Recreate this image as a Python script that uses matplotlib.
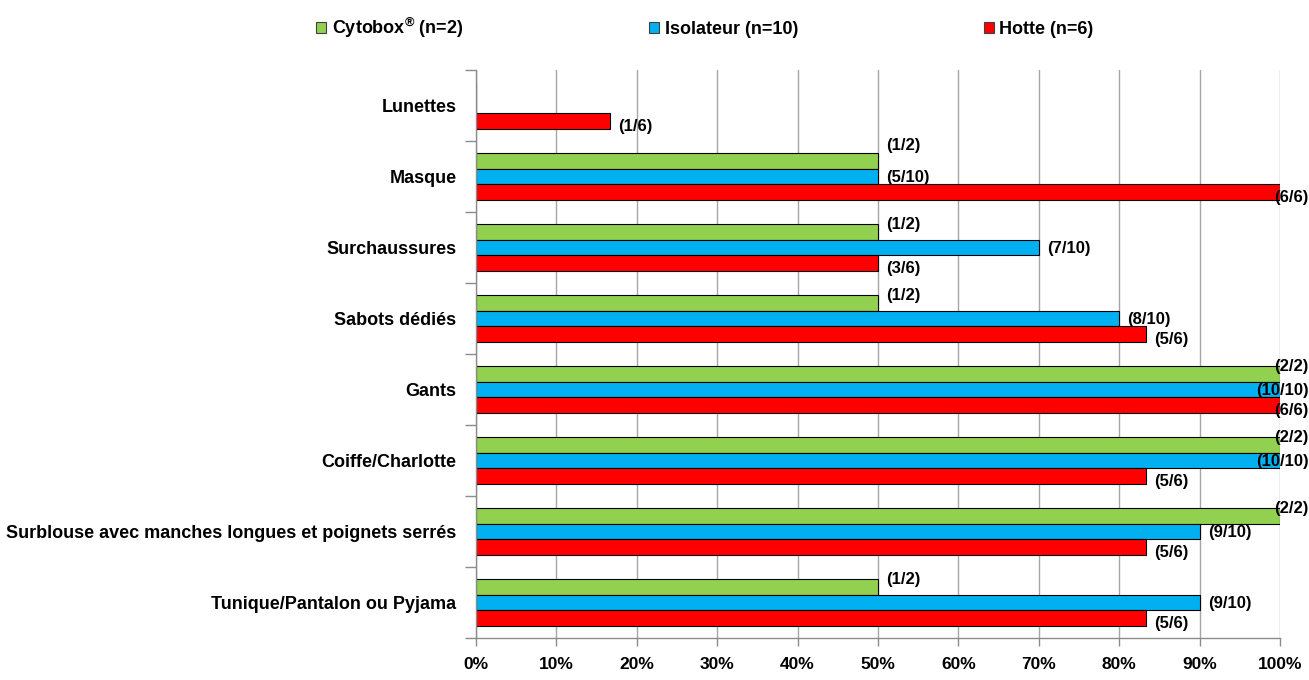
import matplotlib
matplotlib.use("Agg")
import matplotlib.pyplot as plt
import matplotlib.transforms as mtransforms
from matplotlib.patches import Patch
import numpy as np

plt.rcParams['font.family'] = ['Liberation Sans', 'DejaVu Sans']
plt.rcParams['font.weight'] = 'bold'
plt.rcParams['mathtext.fontset'] = 'custom'
plt.rcParams['mathtext.rm'] = 'Liberation Sans:bold'
plt.rcParams['mathtext.bf'] = 'Liberation Sans:bold'
plt.rcParams['mathtext.default'] = 'bf'

categories = ["Lunettes", "Masque", "Surchaussures", "Sabots dédiés", "Gants",
              "Coiffe/Charlotte", "Surblouse avec manches longues et poignets serrés",
              "Tunique/Pantalon ou Pyjama"]
series_names = ["Cytobox$^{®}$ (n=2)", "Isolateur (n=10)", "Hotte (n=6)"]
series_n = [2, 10, 6]
cytobox_counts = [0, 1, 1, 1, 2, 2, 2, 1]
isolateur_counts = [0, 5, 7, 8, 10, 10, 9, 9]
hotte_counts = [1, 6, 3, 5, 6, 5, 5, 5]
x_ticks = [0, 10, 20, 30, 40, 50, 60, 70, 80, 90, 100]
x_tick_labels = [f"{t}%" for t in x_ticks]

colors = ["#92D050", "#00B0F0", "#FF0000"]
counts = [cytobox_counts, isolateur_counts, hotte_counts]

fig = plt.figure(figsize=(13.09, 6.80), dpi=100)
ax = fig.add_axes([476/1309, 1 - 638/680, (1280 - 476)/1309, (638 - 70)/680])

y = np.arange(len(categories))
h = 0.222
offsets = [-h, 0, h]
label_dy = [-5, 0.5, 4]  # points (positive = downward)

for s in range(3):
    vals = np.array(counts[s]) / series_n[s] * 100
    ax.barh(y + offsets[s], vals, height=h, color=colors[s], edgecolor="black",
            linewidth=0.8, zorder=3)

right_tr = mtransforms.blended_transform_factory(fig.transFigure, ax.transData)
for s in range(3):
    for i in range(len(categories)):
        c = counts[s][i]
        if c == 0:
            continue
        v = c / series_n[s] * 100
        txt = f"({c}/{series_n[s]})"
        dy = label_dy[s]
        if s == 0 and v < 100 and counts[1][i] / series_n[1] == c / series_n[0]:
            dy = -11
        if v >= 100:
            ax.annotate(txt, xy=(0.9995, i + offsets[s]), xycoords=right_tr,
                        xytext=(0, -dy), textcoords="offset points",
                        ha="right", va="center", fontsize=12, fontweight="bold", zorder=5)
        else:
            ax.annotate(txt, xy=(v, i + offsets[s]), xycoords="data",
                        xytext=(6, -dy), textcoords="offset points",
                        ha="left", va="center", fontsize=12, fontweight="bold", zorder=5)

ax.set_xlim(0, 100)
ax.set_ylim(len(categories) - 0.5, -0.5)
ax.set_xticks(x_ticks)
ax.set_xticklabels(x_tick_labels, fontsize=12.5, fontweight="bold")
ax.set_yticks(y)
ax.set_yticklabels(categories, fontsize=13, fontweight="bold")
ax.set_yticks(np.arange(len(categories) + 1) - 0.5, minor=True)
ax.tick_params(axis="y", which="major", length=0, pad=14)
ax.tick_params(axis="y", which="minor", length=8, color="#8c8c8c", width=1)
ax.tick_params(axis="x", which="major", length=6, color="#8c8c8c", width=1, pad=8)

ax.grid(axis="x", color="#a6a6a6", linewidth=1, zorder=0)
ax.set_axisbelow(True)
for sp in ["top", "right"]:
    ax.spines[sp].set_visible(False)
for sp in ["left", "bottom"]:
    ax.spines[sp].set_color("#8c8c8c")
    ax.spines[sp].set_linewidth(1)
    ax.spines[sp].set_zorder(4)

handles = [Patch(facecolor=colors[s], edgecolor="#404040", linewidth=0.8) for s in range(3)]
fig.legend(handles, series_names, loc="center", bbox_to_anchor=(705/1309, 1 - 28/680),
           ncol=3, frameon=False, handlelength=0.55, handleheight=0.55,
           handletextpad=0.3, columnspacing=10.3, prop={"weight": "bold", "size": 13})

fig.savefig("out.png", dpi=100)
